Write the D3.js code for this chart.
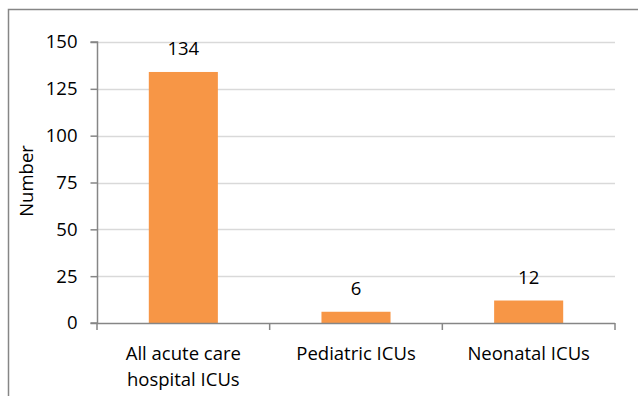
<!DOCTYPE html>
<html><head><meta charset="utf-8">
<script src="https://cdn.jsdelivr.net/npm/d3@7"></script>
<style>body{margin:0;background:#fff}svg{display:block}text{font-family:"Open Sans",sans-serif;font-size:18.5px;fill:#000}</style>
</head><body><svg id="c" width="642" height="396"></svg>
<script>
const categories = [["All acute care","hospital ICUs"],["Pediatric ICUs"],["Neonatal ICUs"]];
const values = [134, 6, 12];
const yTicks = [0, 25, 50, 75, 100, 125, 150];
const yTitle = "Number";

const svg = d3.select("#c");
const x0 = 97, x1 = 615, yTop = 42, yBot = 323;
const x = d3.scaleBand().domain(d3.range(values.length)).range([x0, x1]).paddingInner(0.6).paddingOuter(0.3);
const y = d3.scaleLinear().domain([0, 150]).range([yBot, yTop]);

// frame
svg.append("path").attr("d", `M8.5,396 V9.5 H638`).attr("fill","none").attr("stroke","#868686").attr("stroke-width",1.5);

// gridlines
svg.append("g").selectAll("line").data(yTicks.filter(d=>d>0)).join("line")
  .attr("x1", x0).attr("x2", x1).attr("y1", d=>Math.round(y(d))+0.5).attr("y2", d=>Math.round(y(d))+0.5)
  .attr("stroke","#d9d9d9").attr("stroke-width",1.5);

// bars
svg.append("g").selectAll("rect").data(values).join("rect")
  .attr("x",(d,i)=>x(i)).attr("width",x.bandwidth())
  .attr("y",d=>y(d)).attr("height",d=>y(0)-y(d)).attr("fill","#f79646");

// y axis
const ya = svg.append("g").attr("transform",`translate(${x0+0.5},0)`)
  .call(d3.axisLeft(y).tickValues(yTicks).tickSize(7).tickPadding(13));
ya.attr("font-family",null).attr("font-size",null);
ya.select(".domain").attr("stroke","#868686").attr("stroke-width",1.5).attr("d",`M-7,${yTop}H0V${yBot}H-7`);
ya.selectAll(".tick line").attr("stroke","#868686").attr("stroke-width",1.5);
ya.selectAll(".tick text").attr("fill","#000");

// x axis
const bx = [x0, ...d3.range(values.length).map(i=>x(i)+x.bandwidth()/2 + x.step()/2)];
const xa = svg.append("g");
xa.append("line").attr("x1",x0).attr("x2",x1).attr("y1",yBot+0.5).attr("y2",yBot+0.5).attr("stroke","#868686").attr("stroke-width",1.5);
xa.selectAll("line.t").data(bx).join("line").attr("class","t")
  .attr("x1",d=>d).attr("x2",d=>d).attr("y1",yBot).attr("y2",yBot+7).attr("stroke","#868686").attr("stroke-width",1.5);

// x labels
const xl = svg.append("g").selectAll("text").data(categories).join("text")
  .attr("text-anchor","middle")
  .attr("x",(d,i)=>x(i)+x.bandwidth()/2).attr("y",360);
xl.selectAll("tspan").data(d=>d).join("tspan")
  .attr("x",function(){return this.parentNode.getAttribute("x");})
  .attr("dy",(d,i)=>i===0?0:26).text(d=>d);

// value labels
svg.append("g").selectAll("text").data(values).join("text")
  .attr("text-anchor","middle")
  .attr("x",(d,i)=>x(i)+x.bandwidth()/2).attr("y",d=>y(d)-17).text(d=>d);

// y title
svg.append("text").attr("transform","translate(33,181) rotate(-90)").attr("text-anchor","middle").text(yTitle);
</script></body></html>
